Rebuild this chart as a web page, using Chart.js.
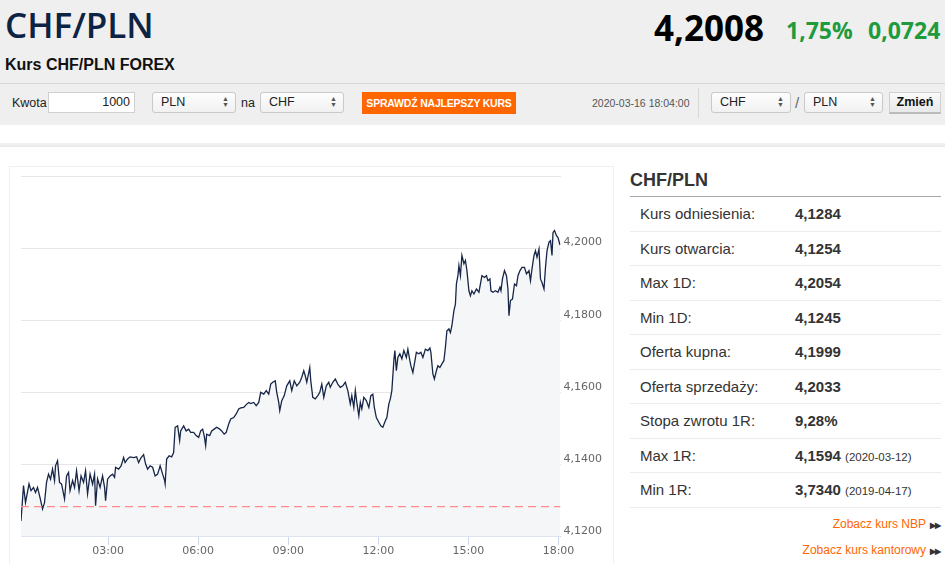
<!DOCTYPE html>
<html><head><meta charset="utf-8">
<script src="https://cdn.jsdelivr.net/npm/chart.js@4.4.1/dist/chart.umd.min.js"></script>
<style>
*{box-sizing:border-box}
body{margin:0;width:945px;height:564px;overflow:hidden;background:#fff;font-family:"Liberation Sans",Arial,sans-serif;position:relative;color:#333}
.abs{position:absolute;white-space:nowrap}
.hdr{left:0;top:0;width:945px;height:125px;background:#efefef}
.title{left:5px;top:1px;font:600 35px/48px "Open Sans",sans-serif;color:#0d2344}
.sub{left:5px;top:55px;font:bold 16px/20px "Liberation Sans",Arial,sans-serif;color:#111}
.price{left:654px;top:5px;font:bold 35px/46px "Open Sans",sans-serif;color:#000}
.chg{top:14px;font:bold 23px/32px "Open Sans",sans-serif;color:#1f9a3d}
.hline{left:0;top:83px;width:945px;height:1px;background:#d6d6d6}
.lbl{font:12.5px/22px "Liberation Sans",Arial,sans-serif;color:#222;top:92px}
.inp{top:92px;height:21px;background:#fff;border:1px solid #cfcfcf;font:12.5px/19px "Liberation Sans",Arial,sans-serif;color:#222;text-align:right;padding-right:4px}
.sel{top:92px;height:21px;background:linear-gradient(#fdfdfd,#f1f1f1);border:1px solid #c9c9c9;border-radius:3px;font:12.5px/19px "Liberation Sans",Arial,sans-serif;color:#222;padding-left:8px}
.sel .arr{position:absolute;right:6px;top:3px;font-size:7px;line-height:6px;color:#555}
.btn{left:362px;top:92px;width:154px;height:22px;background:#ff6600;color:#fff;font:bold 10.5px/22px "Liberation Sans",Arial,sans-serif;text-align:center;letter-spacing:-0.2px}
.date{left:592px;top:92px;font:10.5px/22px "Liberation Sans",Arial,sans-serif;color:#555}
.vsep{left:698px;top:88px;width:1px;height:30px;background:#d8d8d8}
.zm{left:889px;top:92px;width:52px;height:22px;background:linear-gradient(#fafafa,#e9e9e9);border:1px solid #d0d0d0;border-bottom:2px solid #bbb;font:bold 12.5px/19px "Liberation Sans",Arial,sans-serif;color:#111;text-align:center}
.sep2{left:0;top:143px;width:945px;height:4px;background:linear-gradient(#f3f3f3,#e8e8e8)}
.box{left:9px;top:166px;width:605px;height:410px;border:1px solid #f0f0f0;background:#fff}
#wrap{position:absolute;left:10px;top:167px;width:603px;height:397px}
.ptitle{left:630px;top:168px;font:bold 18px/24px "Liberation Sans",Arial,sans-serif;color:#333}
.pline{left:630px;top:196px;width:311px;height:1px;background:#a9a9a9}
.row{left:630px;width:311px;height:34.5px;border-bottom:1px solid #ececec}
.row .k{position:absolute;left:10px;top:0;font:15px/34px "Liberation Sans",Arial,sans-serif;color:#333}
.row .v{position:absolute;left:165px;top:0;font:bold 15px/34px "Liberation Sans",Arial,sans-serif;color:#333}
.row .v small{font:normal 11.5px "Liberation Sans",Arial,sans-serif;color:#333}
.lnk{right:5px;font:12px/18px "Liberation Sans",Arial,sans-serif;color:#ff6600}
.lnk b{font-size:8px;color:#333;letter-spacing:-1px;margin-left:4px}
</style></head>
<body>
<div class="abs hdr"></div>
<div class="abs title">CHF/PLN</div>
<div class="abs sub">Kurs CHF/PLN FOREX</div>
<div class="abs price">4,2008</div>
<div class="abs chg" style="left:786px">1,75%</div>
<div class="abs chg" style="left:868px">0,0724</div>
<div class="abs hline"></div>
<div class="abs lbl" style="left:12px">Kwota</div>
<div class="abs inp" style="left:48px;width:87px">1000</div>
<div class="abs sel" style="left:152px;width:84px">PLN<span class="arr">▲<br>▼</span></div>
<div class="abs lbl" style="left:241px">na</div>
<div class="abs sel" style="left:260px;width:84px">CHF<span class="arr">▲<br>▼</span></div>
<div class="abs btn">SPRAWDŹ NAJLEPSZY KURS</div>
<div class="abs date">2020-03-16 18:04:00</div>
<div class="abs vsep"></div>
<div class="abs sel" style="left:711px;width:80px">CHF<span class="arr">▲<br>▼</span></div>
<div class="abs lbl" style="left:795px;font-size:15px;color:#666">/</div>
<div class="abs sel" style="left:804px;width:79px">PLN<span class="arr">▲<br>▼</span></div>
<div class="abs zm">Zmień</div>
<div class="abs sep2"></div>
<div class="abs box"></div>
<div id="wrap"><canvas id="c"></canvas></div>
<div class="abs ptitle">CHF/PLN</div>
<div class="abs pline"></div>
<div id="rows"></div>
<div class="abs lnk" style="top:515px">Zobacz kurs NBP<b>▶▶</b></div>
<div class="abs lnk" style="top:541px">Zobacz kurs kantorowy<b>▶▶</b></div>
<script>
// time of day in minutes after midnight
const timesMin = [6,11,15,22,26,31,35,39,44,49,53,57,61,65,69,73,75,79,83,87,93,97,101,104,109,113,117,122,126,131,135,139,144,149,153,155,159,164,169,173,175,179,184,189,193,195,201,206,211,214,219,224,231,237,241,246,251,255,259,264,269,274,279,284,289,293,294,297,302,307,311,314,319,323,325,331,336,341,345,351,356,361,365,369,372,375,377,383,387,392,397,403,407,412,416,421,425,431,436,441,445,451,456,461,465,471,476,481,485,491,496,501,505,509,514,517,521,523,527,532,537,543,547,552,557,563,567,571,574,577,583,585,589,594,599,603,607,611,616,621,624,629,634,639,644,649,654,659,664,667,671,674,677,681,684,687,691,696,701,705,709,712,716,721,725,729,734,737,741,744,747,751,753,756,759,763,767,771,776,779,783,785,789,792,796,801,805,809,814,819,823,825,829,832,836,839,843,847,851,854,857,861,864,867,871,874,876,879,881,884,887,891,894,897,901,904,907,911,916,921,924,927,932,936,939,943,945,949,954,959,963,965,968,972,976,979,981,984,988,992,996,999,1003,1007,1012,1016,1021,1024,1027,1031,1034,1037,1041,1044,1047,1051,1054,1057,1061,1064,1067,1069,1072,1076,1079,1083];
const rates = [4.1244,4.1342,4.1295,4.1347,4.1328,4.1337,4.1323,4.1337,4.1309,4.1277,4.1295,4.1351,4.1374,4.1360,4.1388,4.1356,4.1397,4.1411,4.1351,4.1347,4.1305,4.1369,4.1379,4.1328,4.1356,4.1337,4.1383,4.1328,4.1369,4.1351,4.1383,4.1319,4.1374,4.1346,4.1374,4.1286,4.1361,4.1337,4.1369,4.1337,4.1300,4.1360,4.1369,4.1374,4.1365,4.1393,4.1388,4.1397,4.1420,4.1406,4.1416,4.1422,4.1420,4.1422,4.1406,4.1420,4.1428,4.1402,4.1388,4.1397,4.1393,4.1369,4.1374,4.1397,4.1374,4.1356,4.1347,4.1416,4.1425,4.1422,4.1434,4.1504,4.1508,4.1467,4.1494,4.1508,4.1494,4.1499,4.1490,4.1490,4.1481,4.1476,4.1494,4.1499,4.1481,4.1453,4.1485,4.1481,4.1494,4.1499,4.1504,4.1499,4.1494,4.1485,4.1490,4.1513,4.1527,4.1531,4.1541,4.1555,4.1558,4.1559,4.1567,4.1573,4.1570,4.1573,4.1564,4.1573,4.1601,4.1596,4.1606,4.1596,4.1624,4.1629,4.1633,4.1601,4.1573,4.1550,4.1578,4.1592,4.1619,4.1633,4.1606,4.1633,4.1619,4.1629,4.1643,4.1661,4.1647,4.1629,4.1670,4.1633,4.1587,4.1583,4.1592,4.1601,4.1624,4.1587,4.1619,4.1629,4.1615,4.1629,4.1638,4.1624,4.1615,4.1619,4.1629,4.1606,4.1569,4.1592,4.1559,4.1606,4.1573,4.1536,4.1573,4.1555,4.1587,4.1578,4.1559,4.1592,4.1596,4.1559,4.1531,4.1518,4.1508,4.1504,4.1522,4.1531,4.1569,4.1583,4.1606,4.1689,4.1717,4.1661,4.1698,4.1708,4.1694,4.1717,4.1698,4.1721,4.1689,4.1675,4.1656,4.1680,4.1712,4.1708,4.1712,4.1698,4.1721,4.1717,4.1724,4.1712,4.1652,4.1638,4.1661,4.1675,4.1670,4.1680,4.1689,4.1726,4.1772,4.1777,4.1767,4.1786,4.1828,4.1846,4.1902,4.1925,4.1953,4.1925,4.1981,4.1958,4.1967,4.1939,4.1883,4.1869,4.1883,4.1874,4.1888,4.1879,4.1902,4.1925,4.1920,4.1925,4.1911,4.1916,4.1883,4.1879,4.1883,4.1879,4.1893,4.1883,4.1916,4.1939,4.1925,4.1888,4.1814,4.1856,4.1860,4.1902,4.1897,4.1925,4.1939,4.1948,4.1948,4.1930,4.1939,4.1911,4.1944,4.1981,4.1994,4.1976,4.1999,4.1916,4.1906,4.1888,4.1948,4.1994,4.2018,4.2022,4.1981,4.2045,4.2050,4.2036,4.2031,4.2010];
const referenceRate = 4.1284;
const xTickMinutes = [180,360,540,720,900,1080];
const yTicks = [4.12,4.14,4.16,4.18,4.20,4.22];
const statLabels = ["Kurs odniesienia:","Kurs otwarcia:","Max 1D:","Min 1D:","Oferta kupna:","Oferta sprzedaży:","Stopa zwrotu 1R:","Max 1R:","Min 1R:"];
const statValues = ["4,1284","4,1254","4,2054","4,1245","4,1999","4,2033","9,28%","4,1594","3,7340"];
const statDates = ["","","","","","","","(2020-03-12)","(2019-04-17)"];

// stats table
const rowsEl = document.getElementById('rows');
statLabels.forEach((l,i)=>{
  const d=document.createElement('div');d.className='abs row';d.style.top=(197+i*34.5)+'px';
  d.innerHTML='<span class="k">'+l+'</span><span class="v">'+statValues[i]+(statDates[i]?' <small>'+statDates[i]+'</small>':'')+'</span>';
  rowsEl.appendChild(d);
});

const xMin=6, xMax=1084;
const pts = timesMin.map((t,i)=>({x:t,y:rates[i]}));
const fmt = m => String(Math.floor(m/60)).padStart(2,'0')+':'+String(m%60).padStart(2,'0');
new Chart(document.getElementById('c'),{
  type:'line',
  data:{datasets:[
    {data:pts,borderColor:'#172647',borderWidth:1.3,pointRadius:0,tension:0,fill:'start',backgroundColor:'#f5f6f8',order:2},
    {data:[{x:xMin,y:referenceRate},{x:xMax,y:referenceRate}],borderColor:'#ff8a8a',borderWidth:1.3,borderDash:[8,5],pointRadius:0,fill:false,order:1}
  ]},
  options:{
    responsive:true,maintainAspectRatio:false,animation:false,
    layout:{padding:{left:11,top:9,right:8,bottom:6}},
    plugins:{legend:{display:false},tooltip:{enabled:false}},
    scales:{
      x:{type:'linear',min:xMin,max:xMax,
        afterBuildTicks:s=>{s.ticks=xTickMinutes.map(v=>({value:v}));},
        grid:{drawOnChartArea:false,drawTicks:true,tickLength:8,tickColor:'#ccd6eb'},
        border:{display:true,color:'#ccd6eb',width:1},
        ticks:{padding:0,maxRotation:0,autoSkip:false,color:'#666',font:{family:'"DejaVu Sans"',size:11},callback:v=>fmt(v)}},
      y:{type:'linear',position:'right',min:4.12,max:4.22,
        afterBuildTicks:s=>{s.ticks=yTicks.map(v=>({value:v}));},
        grid:{color:'#e6e6e6',drawTicks:false,lineWidth:1},
        border:{display:false},
        ticks:{padding:3,labelOffset:-6,color:'#666',font:{family:'"DejaVu Sans"',size:11},callback:v=>v>=4.2199?'':v.toFixed(4).replace('.',',')}}
    }
  }
});
</script>
</body></html>
